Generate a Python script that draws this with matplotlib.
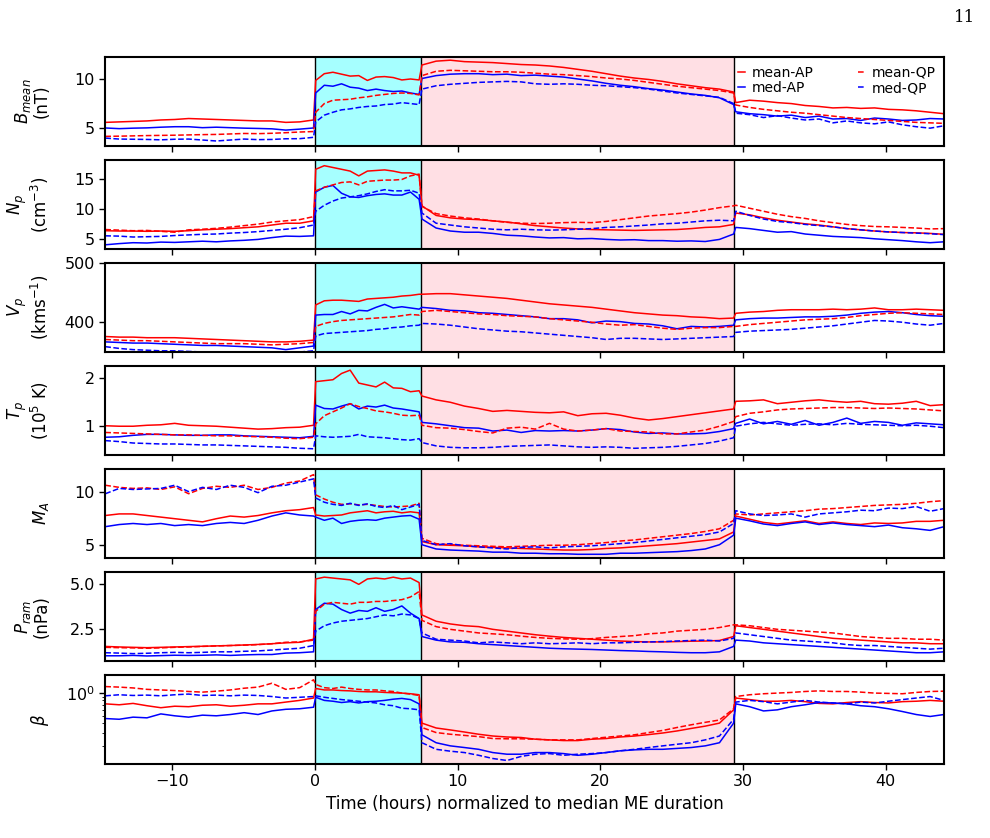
import numpy as np
import matplotlib
matplotlib.use('Agg')
import matplotlib.pyplot as plt
from matplotlib.ticker import LogLocator, NullFormatter, FixedLocator, FixedFormatter

# ---------------- time axis (hours, normalised) ----------------
t_up = np.linspace(-14.7, -0.1, 16)   # upstream
t_sh = np.linspace(0.05, 7.3, 13)     # sheath
t_me = np.linspace(7.5, 29.35, 23)    # magnetic ejecta
t_dn = np.linspace(29.5, 44.1, 16)    # downstream
time = np.concatenate([t_up, t_sh, t_me, t_dn])

sheath_start, me_start, me_end = 0.0, 7.4, 29.4
xlim = (-14.7, 44.1)

# ---------------- B_mean (nT) ----------------
B_mean_AP = ([5.55, 5.6, 5.65, 5.7, 5.8, 5.85, 5.95, 5.9, 5.85, 5.8, 5.75, 5.7, 5.7, 5.55, 5.6, 5.8]
             + [9.9, 10.6, 10.75, 10.55, 10.35, 10.4, 9.9, 10.25, 10.3, 10.2, 9.95, 10.05, 9.95]
             + [11.5, 11.9, 12.0, 11.85, 11.8, 11.75, 11.65, 11.55, 11.5, 11.4, 11.25, 11.05, 10.85, 10.6, 10.35, 10.15, 10.0, 9.8, 9.55, 9.35, 9.15, 9.0, 8.7]
             + [7.6, 7.85, 7.75, 7.6, 7.5, 7.3, 7.2, 7.05, 7.1, 7.0, 7.05, 6.9, 6.85, 6.75, 6.6, 6.45])
B_med_AP = ([4.97, 4.9, 4.95, 4.98, 5.05, 5.1, 5.1, 5.0, 5.05, 5.0, 4.95, 4.92, 4.88, 4.75, 4.85, 4.97]
            + [8.6, 9.4, 9.3, 9.55, 9.2, 9.1, 8.85, 9.0, 8.85, 8.75, 8.8, 8.6, 8.45]
            + [10.1, 10.4, 10.55, 10.6, 10.6, 10.5, 10.55, 10.4, 10.45, 10.35, 10.25, 10.05, 9.85, 9.6, 9.4, 9.25, 9.05, 8.9, 8.7, 8.5, 8.35, 8.1, 7.4]
            + [6.65, 6.45, 6.35, 6.2, 6.3, 6.05, 6.2, 5.9, 5.95, 5.75, 6.0, 5.9, 5.75, 5.8, 5.95, 5.9])
B_mean_QP = ([4.1, 4.12, 4.15, 4.18, 4.2, 4.22, 4.25, 4.28, 4.3, 4.35, 4.4, 4.38, 4.42, 4.48, 4.55, 4.6]
             + [6.6, 7.5, 7.85, 7.9, 7.95, 8.1, 8.2, 8.35, 8.45, 8.55, 8.6, 8.55, 8.4]
             + [10.4, 10.85, 10.95, 10.9, 10.85, 10.8, 10.8, 10.75, 10.65, 10.55, 10.5, 10.4, 10.3, 10.15, 10.05, 9.9, 9.7, 9.5, 9.3, 9.15, 9.0, 8.85, 8.6]
             + [7.35, 7.1, 6.9, 6.75, 6.6, 6.5, 6.35, 6.2, 6.05, 5.95, 5.85, 5.75, 5.65, 5.55, 5.5, 5.45])
B_med_QP = ([3.92, 3.82, 3.8, 3.78, 3.74, 3.8, 3.82, 3.72, 3.62, 3.72, 3.82, 3.76, 3.78, 3.85, 3.86, 4.0]
            + [5.6, 6.3, 6.6, 6.85, 6.95, 7.1, 7.2, 7.25, 7.4, 7.45, 7.6, 7.5, 7.4]
            + [9.0, 9.35, 9.5, 9.6, 9.7, 9.75, 9.8, 9.75, 9.55, 9.5, 9.55, 9.5, 9.4, 9.35, 9.25, 9.15, 9.0, 8.8, 8.6, 8.45, 8.3, 8.15, 7.5]
            + [6.5, 6.35, 6.05, 6.25, 6.0, 5.8, 5.9, 5.5, 5.7, 5.5, 5.4, 5.6, 5.3, 5.1, 4.95, 5.2])

# ---------------- N_p (cm^-3) ----------------
Np_mean_AP = ([6.35, 6.3, 6.3, 6.25, 6.3, 6.25, 6.35, 6.5, 6.6, 6.7, 6.85, 7.0, 7.3, 7.6, 7.6, 8.0]
              + [16.6, 17.2, 16.9, 16.6, 16.3, 15.5, 16.3, 16.4, 16.5, 16.3, 16.0, 16.0, 15.6]
              + [10.5, 8.9, 8.5, 8.3, 8.2, 8.0, 7.8, 7.5, 7.2, 7.0, 6.8, 6.65, 6.55, 6.5, 6.45, 6.4, 6.45, 6.5, 6.55, 6.7, 6.9, 7.0, 7.4]
              + [9.3, 9.0, 8.5, 8.1, 7.8, 7.5, 7.3, 7.0, 6.7, 6.5, 6.3, 6.15, 6.05, 6.0, 5.9, 5.75])
Np_med_AP = ([4.0, 4.2, 4.35, 4.3, 4.45, 4.4, 4.5, 4.6, 4.5, 4.65, 4.75, 4.9, 5.2, 5.45, 5.4, 5.5]
             + [12.8, 13.6, 13.9, 12.6, 12.0, 11.9, 12.2, 12.4, 12.5, 12.3, 12.3, 12.8, 11.6]
             + [8.3, 6.8, 6.3, 6.1, 6.1, 5.9, 5.6, 5.5, 5.3, 5.15, 5.2, 5.0, 5.05, 4.9, 4.8, 4.85, 4.7, 4.7, 4.6, 4.65, 4.55, 4.9, 5.8]
             + [6.9, 6.7, 6.4, 6.1, 6.2, 5.8, 5.6, 5.4, 5.3, 5.2, 5.0, 4.85, 4.7, 4.5, 4.35, 4.5])
Np_mean_QP = ([6.55, 6.45, 6.35, 6.4, 6.25, 6.1, 6.5, 6.6, 6.75, 6.95, 7.2, 7.45, 7.8, 8.0, 8.2, 8.7]
              + [13.0, 13.6, 14.0, 14.4, 14.5, 14.0, 14.6, 14.7, 14.8, 14.8, 14.9, 15.5, 15.8]
              + [10.4, 9.2, 8.8, 8.5, 8.3, 8.0, 7.75, 7.6, 7.55, 7.6, 7.7, 7.75, 7.7, 7.9, 8.2, 8.5, 8.8, 9.0, 9.2, 9.45, 9.8, 10.2, 10.5]
              + [10.6, 10.1, 9.6, 9.1, 8.7, 8.4, 8.0, 7.7, 7.4, 7.2, 7.05, 7.0, 6.9, 6.8, 6.65, 6.7])
Np_med_QP = ([5.5, 5.45, 5.3, 5.35, 5.4, 5.55, 5.65, 5.75, 5.8, 5.95, 6.05, 6.2, 6.4, 6.6, 6.85, 7.3]
             + [9.6, 10.6, 11.3, 11.8, 12.0, 12.2, 12.5, 12.9, 13.2, 13.0, 13.0, 13.1, 12.6]
             + [9.3, 7.6, 7.3, 7.0, 6.8, 6.6, 6.5, 6.6, 6.5, 6.45, 6.5, 6.6, 6.7, 6.9, 7.0, 7.15, 7.3, 7.5, 7.6, 7.8, 8.0, 8.1, 8.0]
             + [9.6, 8.9, 8.3, 7.9, 7.7, 7.4, 7.2, 7.0, 6.7, 6.5, 6.3, 6.15, 6.05, 5.95, 5.85, 5.7])

# ---------------- V_p (km/s) ----------------
Vp_mean_AP = ([376, 375, 375, 374, 374, 374, 373, 372, 371, 370, 369, 368, 367, 367, 368, 370]
              + [429, 436, 437, 437, 436, 435, 439, 440, 441, 442, 444, 445, 447]
              + [447, 448, 448, 446, 444, 442, 440, 437, 434, 431, 429, 427, 425, 422, 419, 416, 414, 412, 411, 409, 408, 406, 407]
              + [415, 417, 418, 420, 421, 421, 421, 422, 421, 422, 424, 421, 421, 422, 421, 420])
Vp_med_AP = ([367, 366, 365, 365, 364, 363, 362, 361, 361, 360, 359, 358, 357, 354, 357, 360]
             + [412, 413, 413, 418, 414, 420, 419, 425, 430, 424, 426, 424, 422]
             + [425, 423, 420, 419, 416, 415, 413, 411, 409, 406, 406, 404, 399, 402, 401, 398, 397, 394, 389, 393, 392, 393, 395]
             + [404, 406, 407, 407, 408, 409, 409, 410, 412, 415, 417, 418, 416, 413, 411, 410])
Vp_mean_QP = ([371, 370, 369, 369, 368, 367, 366, 365, 364, 364, 364, 363, 362, 363, 364, 366]
              + [393, 398, 401, 403, 404, 405, 406, 407, 408, 409, 411, 413, 412]
              + [418, 420, 418, 416, 414, 413, 411, 410, 409, 406, 404, 402, 400, 397, 395, 396, 393, 390, 388, 390, 391, 391, 393]
              + [393, 396, 398, 400, 402, 404, 405, 406, 408, 411, 413, 415, 416, 415, 414, 413])
Vp_med_QP = ([359, 356, 354, 353, 352, 352, 351, 350, 349, 348, 348, 348, 348, 349, 350, 352]
             + [377, 381, 382, 383, 384, 385, 386, 388, 389, 391, 392, 394, 395]
             + [398, 397, 395, 392, 389, 387, 385, 384, 382, 380, 378, 376, 374, 371, 373, 373, 372, 371, 372, 373, 374, 375, 376]
             + [383, 385, 386, 387, 388, 390, 392, 394, 397, 400, 403, 402, 400, 397, 395, 398])

# ---------------- T_p (10^5 K) ----------------
Tp_mean_AP = ([1.01, 1.0, 1.0, 1.02, 1.03, 1.06, 1.02, 1.01, 1.0, 0.98, 0.96, 0.94, 0.95, 0.97, 0.98, 1.02]
              + [1.93, 1.95, 1.97, 2.1, 2.17, 1.9, 1.86, 1.82, 1.92, 1.8, 1.79, 1.72, 1.74]
              + [1.63, 1.55, 1.5, 1.42, 1.37, 1.31, 1.33, 1.31, 1.29, 1.28, 1.3, 1.22, 1.26, 1.27, 1.23, 1.17, 1.13, 1.16, 1.2, 1.24, 1.28, 1.32, 1.36]
              + [1.52, 1.53, 1.55, 1.47, 1.5, 1.53, 1.55, 1.52, 1.5, 1.52, 1.47, 1.46, 1.48, 1.52, 1.43, 1.45])
Tp_med_AP = ([0.77, 0.78, 0.81, 0.83, 0.83, 0.82, 0.81, 0.81, 0.82, 0.82, 0.8, 0.79, 0.78, 0.77, 0.76, 0.79]
             + [1.44, 1.37, 1.36, 1.42, 1.47, 1.36, 1.42, 1.4, 1.44, 1.38, 1.36, 1.33, 1.3]
             + [1.08, 1.05, 1.01, 0.97, 0.96, 0.9, 0.92, 0.87, 0.91, 0.9, 0.91, 0.9, 0.92, 0.95, 0.93, 0.88, 0.85, 0.86, 0.84, 0.84, 0.85, 0.89, 0.95]
             + [1.06, 1.15, 1.05, 1.1, 1.04, 1.12, 1.02, 1.08, 1.17, 1.06, 1.1, 1.08, 1.02, 1.07, 1.05, 1.03])
Tp_mean_QP = ([0.87, 0.86, 0.85, 0.84, 0.83, 0.82, 0.82, 0.81, 0.80, 0.80, 0.79, 0.78, 0.77, 0.75, 0.74, 0.77]
              + [1.05, 1.22, 1.3, 1.38, 1.47, 1.41, 1.37, 1.32, 1.3, 1.27, 1.23, 1.22, 1.23]
              + [1.02, 0.97, 0.96, 0.93, 0.89, 0.86, 0.96, 0.98, 0.94, 1.06, 0.94, 0.9, 0.92, 0.95, 0.9, 0.89, 0.88, 0.84, 0.84, 0.88, 0.92, 1.0, 1.1]
              + [1.2, 1.27, 1.3, 1.34, 1.36, 1.37, 1.38, 1.39, 1.39, 1.38, 1.37, 1.38, 1.37, 1.36, 1.34, 1.32])
Tp_med_QP = ([0.70, 0.68, 0.65, 0.64, 0.63, 0.63, 0.62, 0.61, 0.61, 0.60, 0.59, 0.58, 0.57, 0.56, 0.54, 0.53]
             + [0.8, 0.78, 0.77, 0.78, 0.79, 0.83, 0.78, 0.77, 0.76, 0.74, 0.72, 0.71, 0.74]
             + [0.66, 0.59, 0.56, 0.55, 0.55, 0.56, 0.58, 0.59, 0.6, 0.61, 0.59, 0.57, 0.56, 0.57, 0.56, 0.54, 0.55, 0.56, 0.58, 0.61, 0.64, 0.69, 0.76]
             + [1.0, 1.05, 1.08, 1.05, 1.02, 1.04, 1.05, 1.03, 1.06, 1.04, 1.03, 1.02, 1.01, 1.02, 1.0, 0.97])

# ---------------- M_A ----------------
MA_mean_AP = ([7.75, 7.9, 7.9, 7.75, 7.6, 7.45, 7.3, 7.15, 7.45, 7.7, 7.6, 7.75, 8.0, 8.2, 8.3, 8.5]
              + [7.8, 7.7, 7.75, 7.8, 8.0, 8.1, 8.2, 8.0, 8.1, 8.15, 8.0, 8.1, 8.0]
              + [5.3, 5.0, 4.95, 4.9, 4.8, 4.75, 4.7, 4.65, 4.6, 4.55, 4.5, 4.5, 4.55, 4.65, 4.7, 4.8, 4.9, 5.0, 5.1, 5.25, 5.4, 5.55, 6.2]
              + [7.7, 7.4, 7.1, 6.95, 7.1, 7.25, 7.0, 7.15, 7.0, 6.9, 7.05, 7.0, 7.05, 7.2, 7.2, 7.3])
MA_med_AP = ([6.7, 6.9, 7.0, 6.9, 7.0, 6.8, 6.9, 6.8, 7.0, 7.1, 7.0, 7.3, 7.7, 8.0, 7.8, 7.7]
             + [7.6, 7.3, 7.5, 7.0, 7.2, 7.3, 7.35, 7.3, 7.5, 7.6, 7.7, 7.75, 7.4]
             + [5.0, 4.6, 4.5, 4.45, 4.4, 4.3, 4.3, 4.2, 4.2, 4.15, 4.15, 4.1, 4.1, 4.1, 4.2, 4.2, 4.25, 4.3, 4.35, 4.45, 4.6, 5.0, 5.9]
             + [7.5, 7.25, 6.95, 6.8, 7.0, 7.15, 6.9, 7.05, 6.9, 6.8, 6.7, 6.85, 6.6, 6.5, 6.35, 6.7])
MA_mean_QP = ([10.6, 10.4, 10.3, 10.35, 10.2, 10.45, 9.8, 10.3, 10.5, 10.4, 10.6, 10.2, 10.4, 10.8, 11.0, 11.6]
              + [9.7, 9.3, 9.0, 8.8, 8.85, 8.75, 8.8, 8.7, 8.6, 8.55, 8.6, 8.65, 8.9]
              + [5.6, 5.1, 5.0, 4.95, 4.9, 4.85, 4.8, 4.85, 4.9, 4.95, 4.95, 5.0, 5.1, 5.2, 5.35, 5.45, 5.6, 5.75, 5.9, 6.05, 6.25, 6.5, 7.3]
              + [7.9, 7.8, 7.9, 8.0, 8.1, 8.2, 8.35, 8.4, 8.5, 8.6, 8.7, 8.75, 8.8, 8.9, 9.05, 9.15])
MA_med_QP = ([9.8, 10.3, 10.2, 10.25, 10.3, 10.6, 10.0, 10.4, 10.2, 10.6, 10.4, 9.9, 10.5, 10.6, 10.9, 11.2]
             + [9.4, 9.0, 8.8, 8.7, 8.9, 8.7, 8.85, 8.6, 8.5, 8.7, 8.3, 8.55, 8.8]
             + [5.4, 5.0, 5.1, 4.9, 4.8, 4.7, 4.6, 4.75, 4.8, 4.7, 4.8, 4.85, 4.9, 5.0, 5.1, 5.2, 5.35, 5.5, 5.65, 5.8, 5.95, 6.2, 7.0]
             + [8.2, 7.9, 7.75, 7.8, 7.9, 7.6, 7.9, 8.0, 8.1, 8.25, 8.2, 8.45, 8.4, 8.6, 8.15, 8.4])

# ---------------- P_ram (nPa) ----------------
P_mean_AP = ([1.55, 1.52, 1.5, 1.48, 1.5, 1.52, 1.54, 1.56, 1.58, 1.6, 1.63, 1.66, 1.7, 1.75, 1.78, 1.95]
             + [5.3, 5.4, 5.35, 5.3, 5.25, 5.0, 5.3, 5.35, 5.3, 5.4, 5.3, 5.35, 5.1]
             + [3.3, 2.95, 2.8, 2.7, 2.65, 2.5, 2.4, 2.3, 2.2, 2.12, 2.05, 2.0, 1.95, 1.9, 1.85, 1.82, 1.8, 1.8, 1.82, 1.84, 1.85, 1.88, 2.1]
             + [2.7, 2.6, 2.5, 2.4, 2.3, 2.2, 2.1, 2.0, 1.95, 1.9, 1.85, 1.8, 1.75, 1.75, 1.7, 1.7])
P_med_AP = ([1.03, 1.03, 1.05, 1.02, 1.04, 1.06, 1.05, 1.06, 1.08, 1.05, 1.08, 1.1, 1.1, 1.18, 1.2, 1.25]
            + [3.6, 3.95, 3.9, 3.6, 3.4, 3.55, 3.5, 3.7, 3.5, 3.6, 3.8, 3.4, 3.1]
            + [2.1, 1.9, 1.8, 1.78, 1.7, 1.65, 1.6, 1.55, 1.5, 1.45, 1.42, 1.4, 1.38, 1.35, 1.32, 1.3, 1.27, 1.25, 1.22, 1.2, 1.2, 1.25, 1.55]
            + [1.9, 1.85, 1.75, 1.7, 1.65, 1.6, 1.55, 1.5, 1.45, 1.4, 1.35, 1.3, 1.25, 1.2, 1.2, 1.25])
P_mean_QP = ([1.5, 1.48, 1.47, 1.45, 1.47, 1.5, 1.52, 1.55, 1.58, 1.6, 1.62, 1.65, 1.7, 1.78, 1.8, 1.9]
             + [3.5, 3.9, 4.0, 3.95, 3.9, 4.0, 4.0, 4.05, 4.05, 4.1, 4.15, 4.3, 4.6]
             + [3.0, 2.65, 2.5, 2.4, 2.3, 2.25, 2.2, 2.12, 2.05, 2.0, 1.97, 1.95, 1.98, 2.05, 2.1, 2.15, 2.25, 2.3, 2.4, 2.45, 2.5, 2.6, 2.75]
             + [2.75, 2.7, 2.6, 2.5, 2.45, 2.4, 2.35, 2.3, 2.2, 2.1, 2.05, 2.0, 2.0, 1.95, 1.95, 1.9])
P_med_QP = ([1.2, 1.18, 1.15, 1.17, 1.2, 1.22, 1.2, 1.22, 1.25, 1.25, 1.28, 1.3, 1.35, 1.4, 1.45, 1.6]
            + [2.4, 2.7, 2.85, 2.95, 3.0, 3.05, 3.1, 3.2, 3.3, 3.25, 3.35, 3.3, 3.1]
            + [2.3, 1.95, 1.9, 1.85, 1.75, 1.8, 1.75, 1.7, 1.75, 1.7, 1.72, 1.75, 1.7, 1.75, 1.75, 1.78, 1.8, 1.82, 1.85, 1.88, 1.9, 1.85, 2.0]
            + [2.3, 2.2, 2.1, 2.0, 1.9, 1.85, 1.8, 1.75, 1.65, 1.6, 1.6, 1.55, 1.5, 1.45, 1.4, 1.45])

# ---------------- beta ----------------
beta_mean_AP = ([0.72, 0.7, 0.73, 0.68, 0.64, 0.67, 0.66, 0.69, 0.7, 0.67, 0.69, 0.72, 0.72, 0.76, 0.8, 0.86]
                + [1.15, 1.1, 1.1, 1.08, 1.07, 1.05, 1.04, 1.04, 1.02, 1.01, 1.0, 0.98, 0.95]
                + [0.4, 0.345, 0.325, 0.305, 0.285, 0.27, 0.262, 0.258, 0.245, 0.24, 0.235, 0.235, 0.245, 0.25, 0.262, 0.27, 0.282, 0.296, 0.315, 0.34, 0.365, 0.4, 0.6]
                + [0.86, 0.82, 0.78, 0.78, 0.8, 0.77, 0.73, 0.72, 0.75, 0.77, 0.75, 0.74, 0.77, 0.78, 0.8, 0.78])
beta_med_AP = ([0.46, 0.45, 0.48, 0.47, 0.53, 0.5, 0.48, 0.51, 0.5, 0.52, 0.55, 0.52, 0.58, 0.61, 0.62, 0.65]
               + [0.88, 0.8, 0.78, 0.75, 0.77, 0.74, 0.77, 0.78, 0.8, 0.83, 0.85, 0.82, 0.72]
               + [0.28, 0.22, 0.2, 0.19, 0.18, 0.163, 0.155, 0.155, 0.163, 0.163, 0.158, 0.15, 0.155, 0.163, 0.172, 0.177, 0.18, 0.18, 0.185, 0.19, 0.2, 0.22, 0.4]
               + [0.72, 0.66, 0.58, 0.6, 0.66, 0.7, 0.75, 0.74, 0.72, 0.68, 0.66, 0.62, 0.57, 0.52, 0.49, 0.52])
beta_mean_QP = ([1.22, 1.2, 1.17, 1.12, 1.1, 1.08, 1.05, 1.03, 1.06, 1.1, 1.16, 1.2, 1.35, 1.12, 1.18, 1.5]
                + [1.3, 1.18, 1.15, 1.2, 1.15, 1.12, 1.1, 1.1, 1.07, 1.05, 1.0, 0.97, 0.93]
                + [0.35, 0.3, 0.285, 0.275, 0.265, 0.25, 0.248, 0.248, 0.245, 0.24, 0.24, 0.24, 0.25, 0.26, 0.27, 0.28, 0.3, 0.32, 0.35, 0.38, 0.41, 0.44, 0.62]
                + [0.9, 0.95, 0.98, 1.0, 1.02, 1.05, 1.07, 1.05, 1.05, 1.03, 1.0, 0.99, 0.98, 1.02, 1.05, 1.06])
beta_med_QP = ([0.92, 0.95, 0.93, 0.94, 0.92, 0.95, 0.97, 0.93, 0.94, 0.92, 0.94, 0.93, 0.9, 0.86, 0.88, 0.9]
               + [0.92, 0.88, 0.85, 0.82, 0.8, 0.78, 0.76, 0.74, 0.7, 0.68, 0.63, 0.62, 0.6]
               + [0.22, 0.18, 0.17, 0.163, 0.15, 0.136, 0.128, 0.145, 0.155, 0.158, 0.15, 0.155, 0.158, 0.163, 0.172, 0.18, 0.19, 0.2, 0.21, 0.22, 0.24, 0.27, 0.45]
               + [0.76, 0.8, 0.77, 0.72, 0.76, 0.8, 0.76, 0.74, 0.72, 0.76, 0.74, 0.78, 0.82, 0.86, 0.9, 0.8])

panels = [
    (r'$B_{mean}$' + '\n(nT)', [B_mean_AP, B_med_AP, B_mean_QP, B_med_QP], (3.1, 12.3), [5, 10], ['5', '10']),
    (r'$N_p$' + '\n' + r'(cm$^{-3}$)', [Np_mean_AP, Np_med_AP, Np_mean_QP, Np_med_QP], (3.3, 18.1), [5, 10, 15], ['5', '10', '15']),
    (r'$V_p$' + '\n' + r'(kms$^{-1}$)', [Vp_mean_AP, Vp_med_AP, Vp_mean_QP, Vp_med_QP], (350, 500), [400, 500], ['400', '500']),
    (r'$T_p$' + '\n' + r'(10$^5$ K)', [Tp_mean_AP, Tp_med_AP, Tp_mean_QP, Tp_med_QP], (0.4, 2.25), [1, 2], ['1', '2']),
    (r'$M_A$', [MA_mean_AP, MA_med_AP, MA_mean_QP, MA_med_QP], (3.75, 12.1), [5, 10], ['5', '10']),
    (r'$P_{ram}$' + '\n(nPa)', [P_mean_AP, P_med_AP, P_mean_QP, P_med_QP], (0.74, 5.67), [2.5, 5.0], ['2.5', '5.0']),
    (r'$\beta$', [beta_mean_AP, beta_med_AP, beta_mean_QP, beta_med_QP], (0.115, 1.72), None, None),
]
series_labels = ['mean-AP', 'med-AP', 'mean-QP', 'med-QP']
series_styles = [('red', '-'), ('blue', '-'), ('red', '--'), ('blue', '--')]

W, H = 990, 838
fig = plt.figure(figsize=(W / 100, H / 100), dpi=100)
tops = [57.3, 160.3, 262.7, 366.3, 469.3, 572.3, 675.3]
bots = [146.0, 249.0, 352.0, 455.0, 558.0, 661.0, 764.0]
left_px, right_px = 105.3, 944.0

axes = []
for i, (ylabel, series, ylim, yticks, yticklabels) in enumerate(panels):
    rect = [left_px / W, 1 - bots[i] / H, (right_px - left_px) / W, (bots[i] - tops[i]) / H]
    ax = fig.add_axes(rect)
    ax.axvspan(sheath_start, me_start, color='cyan', alpha=0.35, lw=0, zorder=0)
    ax.axvspan(me_start, me_end, color='pink', alpha=0.5, lw=0, zorder=0)
    for xv in (sheath_start, me_start, me_end):
        ax.axvline(xv, color='black', lw=1.0, zorder=1)
    for vals, lab, (c, ls) in zip(series, series_labels, series_styles):
        ax.plot(time, vals, color=c, ls=ls, lw=1.1, label=lab, zorder=2)
    ax.set_xlim(*xlim)
    if i == 6:
        ax.set_yscale('log')
        ax.set_ylim(*ylim)
        ax.yaxis.set_major_locator(LogLocator(base=10, numticks=10))
        ax.yaxis.set_minor_locator(LogLocator(base=10, subs=np.arange(2, 10) * 0.1, numticks=10))
        ax.yaxis.set_minor_formatter(NullFormatter())
    else:
        ax.set_ylim(*ylim)
        ax.yaxis.set_major_locator(FixedLocator(yticks))
        ax.yaxis.set_major_formatter(FixedFormatter(yticklabels))
    ax.set_xticks([-10, 0, 10, 20, 30, 40])
    if i < 6:
        ax.tick_params(axis='x', labelbottom=False)
    ax.tick_params(axis='both', which='major', labelsize=11.5, length=4, width=1)
    ax.set_ylabel(ylabel, fontsize=12, linespacing=1.0)
    for sp in ax.spines.values():
        sp.set_linewidth(1.5)
    axes.append(ax)

axes[-1].set_xlabel('Time (hours) normalized to median ME duration', fontsize=12)
for ax in axes:
    ax.yaxis.set_label_coords(-0.065, 0.5)

axes[0].legend(loc='upper right', ncol=2, frameon=False, fontsize=10,
               handlelength=0.5, columnspacing=3.2, handletextpad=0.5,
               labelspacing=0.1, borderaxespad=0.2)

fig.text(965 / W, 1 - 18 / H, '11', fontsize=12, family='DejaVu Serif', ha='center', va='center')

fig.savefig('out.png', dpi=100)
